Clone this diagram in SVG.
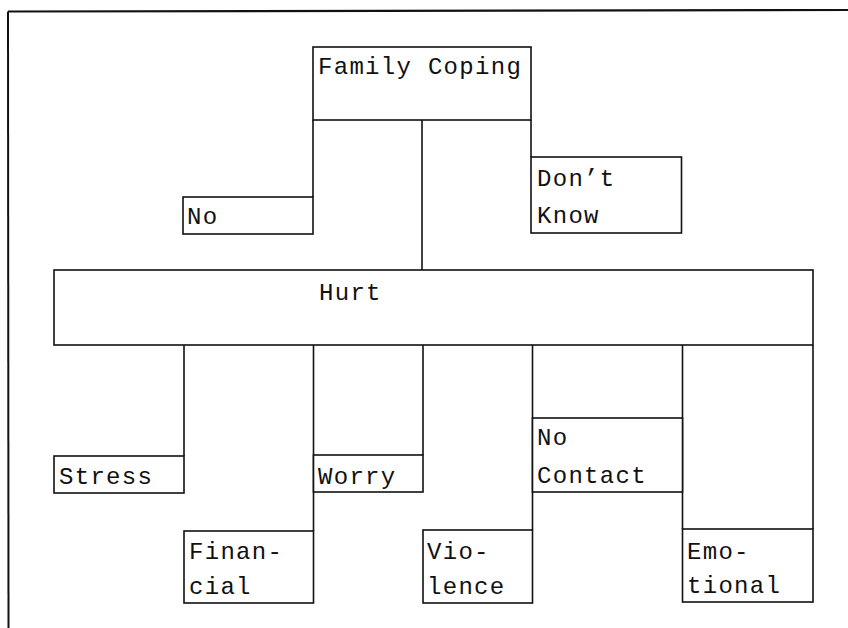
<svg xmlns="http://www.w3.org/2000/svg" width="848" height="628" viewBox="0 0 848 628">
<style>
rect.box{fill:#fff;stroke:#111;stroke-width:1.6}
line{stroke:#111;stroke-width:1.6}
text{font-family:"Liberation Mono","DejaVu Sans Mono",monospace;font-size:24px;letter-spacing:1.3px;fill:#111}
</style>
<rect width="848" height="628" fill="#fff"/>
<g id="frame">
<line x1="8" y1="11.5" x2="848" y2="10" style="stroke-width:2.2"/>
<line x1="8" y1="11.5" x2="8.5" y2="628" style="stroke-width:2"/>
</g>
<g id="connectors">
<line x1="313" y1="120" x2="313" y2="197"/>
<line x1="422" y1="120" x2="422" y2="270"/>
<line x1="531" y1="120" x2="531" y2="157"/>
<line x1="184" y1="345" x2="184" y2="456"/>
<line x1="313.5" y1="345" x2="313.5" y2="531"/>
<line x1="423" y1="345" x2="423" y2="455"/>
<line x1="532.5" y1="345" x2="532.5" y2="530"/>
<line x1="682.5" y1="345" x2="682.5" y2="529"/>
<line x1="813" y1="345" x2="813" y2="529"/>
</g>
<g id="family-coping"><rect class="box" x="313" y="47" width="218" height="73"/><text x="318" y="74">Family Coping</text></g>
<g id="no"><rect class="box" x="183" y="197" width="130" height="37"/><text x="187" y="224">No</text></g>
<g id="dont-know"><rect class="box" x="531" y="157" width="150.5" height="76"/><text x="537" y="186">Don’t</text><text x="537" y="223">Know</text></g>
<g id="hurt"><rect class="box" x="54" y="270" width="759" height="75"/><text x="319" y="300">Hurt</text></g>
<g id="stress"><rect class="box" x="54" y="456" width="130" height="37"/><text x="59" y="484">Stress</text></g>
<g id="worry"><rect class="box" x="313.5" y="455" width="109.5" height="37"/><text x="318" y="484">Worry</text></g>
<g id="no-contact"><rect class="box" x="532.5" y="418" width="150" height="74"/><text x="537" y="445">No</text><text x="537" y="483">Contact</text></g>
<g id="financial"><rect class="box" x="184" y="531" width="129.5" height="72"/><text x="189" y="559">Finan-</text><text x="189" y="594">cial</text></g>
<g id="violence"><rect class="box" x="423" y="530" width="109.5" height="73"/><text x="427" y="559">Vio-</text><text x="427" y="594">lence</text></g>
<g id="emotional"><rect class="box" x="682.5" y="529" width="130.5" height="73"/><text x="687" y="559">Emo-</text><text x="687" y="593">tional</text></g>
</svg>
